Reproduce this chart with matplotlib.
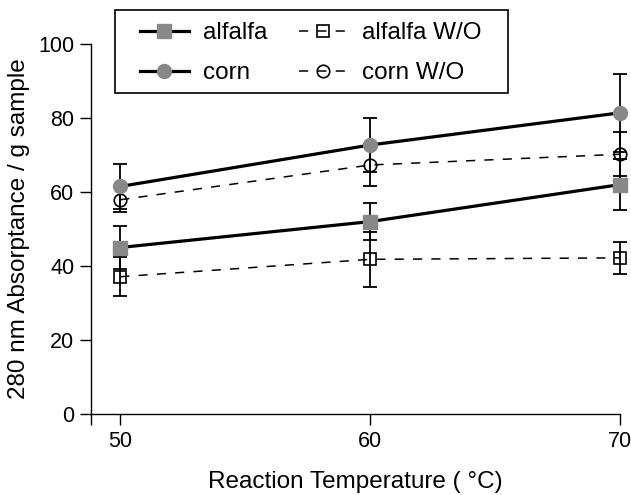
import matplotlib
matplotlib.use("Agg")
import matplotlib.pyplot as plt
from matplotlib.patches import Rectangle

plt.rcParams['font.family'] = ['Liberation Sans', 'DejaVu Sans']

temps = [50, 60, 70]
alfalfa = [45.0, 52.0, 62.0]
alfalfa_err = [5.8, 4.9, 6.8]
alfalfa_wo = [37.1, 41.8, 42.2]
alfalfa_wo_err = [5.2, 7.4, 4.4]
corn = [61.5, 72.7, 81.4]
corn_err = [6.1, 7.3, 10.5]
corn_wo = [57.9, 67.3, 70.2]
corn_wo_err = [3.4, 5.8, 5.9]

grey = '#888888'
W, H = 631, 495
fig = plt.figure(figsize=(W / 100, H / 100), dpi=100)
ax = fig.add_axes([91 / W, 1 - 414 / H, 529 / W, 370 / H])

for y, e in [(alfalfa_wo, alfalfa_wo_err), (corn_wo, corn_wo_err),
             (alfalfa, alfalfa_err), (corn, corn_err)]:
    ax.errorbar(temps, y, yerr=e, fmt='none', ecolor='black', elinewidth=1.3,
                capsize=5, capthick=1.3, zorder=2, clip_on=False)

ax.plot(temps, alfalfa, color='black', lw=2.3, marker='s', ms=10, mfc=grey, mec=grey,
        label='alfalfa', zorder=4, clip_on=False)
ax.plot(temps, corn, color='black', lw=2.3, marker='o', ms=10, mfc=grey, mec=grey,
        label='corn', zorder=4, clip_on=False)
ax.plot(temps, alfalfa_wo, color='black', lw=1.1, ls=(0, (6, 6)), marker='s', ms=9,
        mfc='none', mec='black', mew=1.2, label='alfalfa W/O', zorder=3, clip_on=False)
ax.plot(temps, corn_wo, color='black', lw=1.1, ls=(0, (6, 6)), marker='o', ms=9,
        mfc='none', mec='black', mew=1.2, label='corn W/O', zorder=3, clip_on=False)

x0 = 48.83
ax.set_xlim(x0, 70)
ax.set_ylim(0, 100)
ax.set_xticks([x0, 50, 60, 70], ['', '50', '60', '70'])
ax.set_yticks([0, 20, 40, 60, 80, 100])
ax.tick_params(direction='out', length=8, width=1, labelsize=15.5, pad=4)
for s in ['top', 'right']:
    ax.spines[s].set_visible(False)
for s in ['left', 'bottom']:
    ax.spines[s].set_linewidth(1)

ax.set_xlabel('Reaction Temperature ( °C)', fontsize=17.5, labelpad=14)
ax.set_ylabel('280 nm Absorptance / g sample', fontsize=17.5, labelpad=6)

# legend frame drawn by hand (wider side padding than matplotlib allows)
fig.patches.append(Rectangle((115 / W, 1 - 93 / H), 393 / W, 83 / H,
                             transform=fig.transFigure, fill=False,
                             edgecolor='black', lw=1.2, zorder=5))
handles, labels = ax.get_legend_handles_labels()
leg = fig.legend(handles, labels, ncol=2,
                 loc='upper left', bbox_to_anchor=(140 / W, 1 - 22 / H), fontsize=17.5,
                 frameon=False, handlelength=2.0, columnspacing=1.3, labelspacing=0.75,
                 borderpad=0, handletextpad=0.6, borderaxespad=0)

fig.savefig('out.png', dpi=100)
